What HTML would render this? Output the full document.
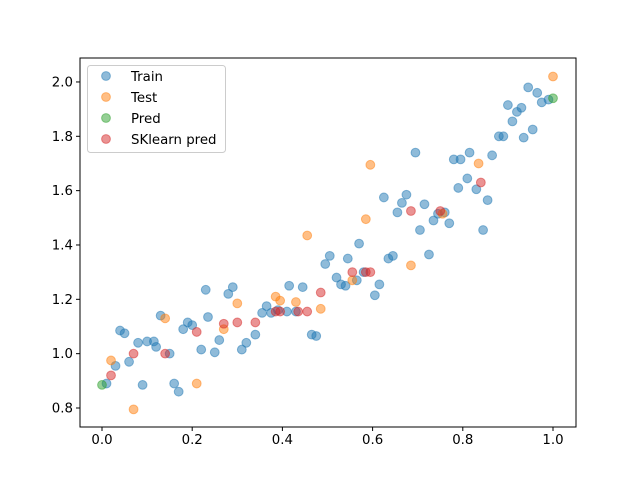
<!DOCTYPE html>
<html><head><meta charset="utf-8"><style>body{margin:0;background:#fff}svg{font-family:"DejaVu Sans","Liberation Sans",sans-serif}</style></head>
<body>
<svg id="chart" width="640" height="480" xmlns="http://www.w3.org/2000/svg"></svg>
<script>
const trainX=[0.01,0.03,0.04,0.05,0.06,0.08,0.09,0.10,0.115,0.12,0.13,0.15,0.16,0.17,0.18,0.19,0.20,0.22,0.23,0.235,0.25,0.26,0.28,0.29,0.31,0.32,0.34,0.355,0.365,0.375,0.39,0.41,0.415,0.43,0.445,0.465,0.475,0.495,0.505,0.52,0.53,0.54,0.545,0.565,0.57,0.58,0.605,0.615,0.625,0.635,0.645,0.655,0.665,0.675,0.695,0.705,0.715,0.725,0.735,0.745,0.76,0.77,0.78,0.79,0.795,0.81,0.815,0.83,0.845,0.855,0.865,0.88,0.89,0.90,0.91,0.92,0.93,0.935,0.945,0.955,0.965,0.975,0.99];
const trainY=[0.89,0.955,1.085,1.075,0.97,1.04,0.885,1.045,1.045,1.025,1.14,1.0,0.89,0.86,1.09,1.115,1.105,1.015,1.235,1.135,1.005,1.05,1.22,1.245,1.015,1.04,1.07,1.15,1.175,1.15,1.16,1.155,1.25,1.155,1.245,1.07,1.065,1.33,1.36,1.28,1.255,1.25,1.35,1.27,1.405,1.30,1.215,1.255,1.575,1.35,1.36,1.52,1.555,1.585,1.74,1.455,1.55,1.365,1.49,1.515,1.52,1.48,1.715,1.61,1.715,1.645,1.74,1.605,1.455,1.565,1.73,1.80,1.80,1.915,1.855,1.89,1.905,1.795,1.98,1.825,1.96,1.925,1.935];
const testX=[0.02,0.07,0.14,0.21,0.27,0.30,0.385,0.395,0.43,0.455,0.485,0.555,0.585,0.595,0.685,0.755,0.835,1.0];
const testY=[0.975,0.795,1.13,0.89,1.09,1.185,1.21,1.195,1.19,1.435,1.165,1.27,1.495,1.695,1.325,1.515,1.70,2.02];
const predX=[0.0,1.0];
const predY=[0.885,1.94];
const skX=[0.02,0.07,0.14,0.21,0.27,0.30,0.34,0.385,0.395,0.435,0.455,0.485,0.555,0.585,0.595,0.685,0.75,0.84];
const skY=[0.92,1.0,1.0,1.08,1.11,1.115,1.115,1.155,1.155,1.155,1.155,1.225,1.30,1.30,1.30,1.525,1.525,1.63];
const xTicks=[0,0.2,0.4,0.6,0.8,1.0];
const xTickLabels=["0.0","0.2","0.4","0.6","0.8","1.0"];
const yTicks=[0.8,1.0,1.2,1.4,1.6,1.8,2.0];
const yTickLabels=["0.8","1.0","1.2","1.4","1.6","1.8","2.0"];
const svg=document.getElementById('chart');const NS="http://www.w3.org/2000/svg";
const L=80,R=576,T=58,B=427;
const sx=v=>102+v*451, sy=v=>408-(v-0.8)*271.7;
function mk(t,a,p){const e=document.createElementNS(NS,t);for(const k in a)e.setAttribute(k,a[k]);(p||svg).appendChild(e);return e;}
const ax=mk('g',{});


function series(xs,ys,col,name){const g=mk('g',{});


xs.forEach((x,i)=>{const c=mk('circle',{cx:sx(x),cy:sy(ys[i]),r:4.4,fill:col,'fill-opacity':0.5,stroke:col,'stroke-opacity':0.5,'stroke-width':1},g);

});}
series(trainX,trainY,'#1f77b4','train');
series(testX,testY,'#ff7f0e','test');
series(predX,predY,'#2ca02c','pred');
series(skX,skY,'#d62728','sklearn-pred');
mk('rect',{x:L,y:T,width:R-L,height:B-T,fill:'none',stroke:'#000','stroke-width':1});
xTicks.forEach((v,i)=>{const x=sx(v);mk('line',{x1:x,x2:x,y1:B,y2:B+4,stroke:'#000'});
const t=mk('text',{x:x,y:B+17,'font-size':'10pt','text-anchor':'middle'});t.textContent=xTickLabels[i];

});
yTicks.forEach((v,i)=>{const y=sy(v);mk('line',{x1:L-4,x2:L,y1:y,y2:y,stroke:'#000'});
const t=mk('text',{x:L-7,y:y+4.5,'font-size':'10pt','text-anchor':'end'});t.textContent=yTickLabels[i];

});
const lg=mk('g',{});


mk('rect',{x:87.5,y:65.5,width:138,height:87,rx:3,fill:'#fff','fill-opacity':0.8,stroke:'#ccc'},lg);
const names=['Train','Test','Pred','SKlearn pred'],cols=['#1f77b4','#ff7f0e','#2ca02c','#d62728'];
names.forEach((n,i)=>{const y=76+i*21;mk('circle',{cx:106,cy:y,r:4.4,fill:cols[i],'fill-opacity':0.5,stroke:cols[i],'stroke-opacity':0.5},lg);
const t=mk('text',{x:131,y:y+5,'font-size':'10pt'},lg);t.textContent=n;

});
</script>
</body></html>
